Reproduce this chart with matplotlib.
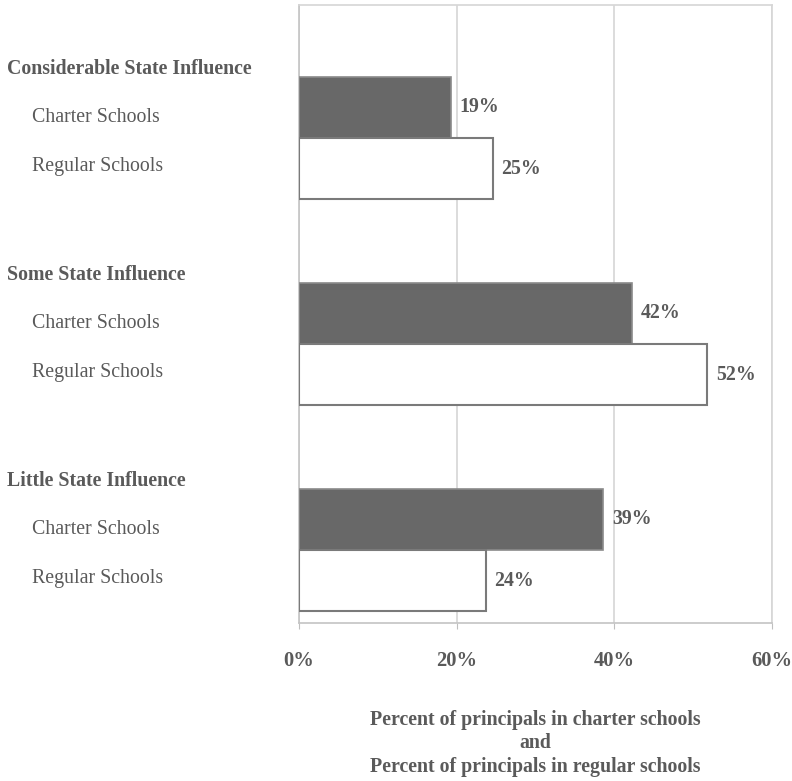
import numpy as np
import matplotlib.pyplot as plt

# data
groups = ['Considerable State Influence', 'Some State Influence', 'Little State Influence']
charter = [19.3, 42.2, 38.6]
regular = [24.6, 51.8, 23.7]
charter_lbl = ['19%', '42%', '39%']
regular_lbl = ['25%', '52%', '24%']
xticks = [0, 20, 40, 60]
xtick_lbl = ['0%', '20%', '40%', '60%']

TXT = '#5a5a5a'
FS = 14.3
plt.rcParams['font.family'] = ['Liberation Serif', 'DejaVu Serif']

fig = plt.figure(figsize=(7.92, 7.81), dpi=100)
ax = fig.add_axes([299 / 792, 1 - 623 / 781, 473 / 792, 618 / 781])

bh = 61 / 206
y0 = np.arange(len(groups))
yc = y0 + 72 / 206 + bh / 2
yr = yc + bh

ax.barh(yc, charter, height=bh, color='#686868', edgecolor='#8a8a8a', linewidth=1.2, zorder=3)
ax.barh(yr, regular, height=bh, color='white', edgecolor='#7a7a7a', linewidth=1.5, zorder=3)

for i in range(len(groups)):
    ax.text(charter[i] + 1.1, yc[i], charter_lbl[i], va='center', ha='left',
            fontsize=FS, fontweight='bold', color=TXT)
    ax.text(regular[i] + 1.1, yr[i], regular_lbl[i], va='center', ha='left',
            fontsize=FS, fontweight='bold', color=TXT)
    # left hand labels
    ax.text(-37.0, i + 0.31, groups[i], va='center', ha='left', fontsize=FS,
            fontweight='bold', color=TXT)
    ax.text(-33.9, i + 0.545, 'Charter Schools', va='center', ha='left',
            fontsize=FS, color=TXT)
    ax.text(-33.9, i + 0.785, 'Regular Schools', va='center', ha='left',
            fontsize=FS, color=TXT)

ax.set_xlim(0, 60)
ax.set_ylim(3, 0)
ax.set_xticks(xticks)
ax.set_xticklabels(xtick_lbl, fontsize=14.8, fontweight='bold', color=TXT)
ax.set_yticks([])
ax.tick_params(axis='x', length=4, color='#bfbfbf', pad=16)
ax.grid(axis='x', color='#d6d6d6', linewidth=1.2, zorder=0)
for s in ['top', 'right']:
    ax.spines[s].set_color('#d6d6d6')
    ax.spines[s].set_linewidth(1.2)
ax.spines['left'].set_color('#c4c4c4')
ax.spines['bottom'].set_color('#c4c4c4')
ax.spines['left'].set_linewidth(1.2)
ax.spines['bottom'].set_linewidth(1.2)

fig.text(535.5 / 792, 1 - 743.5 / 781,
         'Percent of principals in charter schools\nand\nPercent of principals in regular schools',
         ha='center', va='center', fontsize=FS, fontweight='bold', color=TXT,
         linespacing=1.24)

fig.savefig('out.png', dpi=100)
